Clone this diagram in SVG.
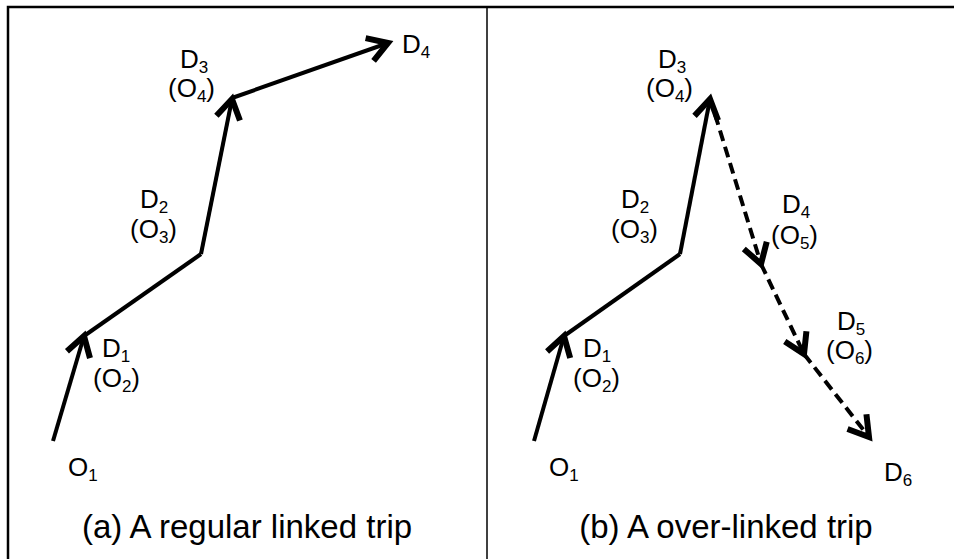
<svg xmlns="http://www.w3.org/2000/svg" width="954" height="559" viewBox="0 0 954 559">
<style>
.lbl{font-family:"Liberation Sans",Arial,sans-serif;font-size:26px;fill:#000}
.sub{font-size:17px}
.ttl{font-family:"Liberation Sans",Arial,sans-serif;font-size:33px;fill:#000}
.seg{fill:none;stroke:#000;stroke-width:4;marker-end:url(#ah)}
.plain{fill:none;stroke:#000;stroke-width:4}
.dash{stroke-dasharray:11 6}
.frame{fill:none;stroke:#000}
</style>
<defs>
<marker id="ah" markerUnits="userSpaceOnUse" markerWidth="30" markerHeight="30" viewBox="-15 -10 20 20" refX="0" refY="0" orient="auto">
<path d="M-13,-8 L0,0 L-13,8" fill="none" stroke="#000" stroke-width="4" stroke-linejoin="miter"/>
</marker>
</defs>
<rect width="954" height="559" fill="#fff"/>
<g id="frame">
<path class="frame" d="M8,559 V7 H954" stroke-width="2.5"/>
<path class="frame" d="M487,7 V559" stroke-width="1.5"/>
</g>
<g id="connectors">
<path class="seg" d="M53,441 L84,336"/>
<path class="plain" d="M84,336 L201,254"/>
<path class="seg" d="M201,254 L232,99"/>
<path class="seg" d="M232,98 L388,43"/>
<path class="seg" d="M534,441 L564,336"/>
<path class="plain" d="M564,336 L680,254"/>
<path class="seg" d="M680,254 L710,99"/>
<path class="seg dash" d="M710,98 L761,264"/>
<path class="seg dash" d="M761,264 L804,354"/>
<path class="seg dash" d="M804,354 L869,437"/>
</g>
<g id="a-O1"><text class="lbl" x="68" y="476">O<tspan class="sub" dy="5">1</tspan></text></g>
<g id="a-D1"><text class="lbl" x="102" y="357">D<tspan class="sub" dy="5">1</tspan></text><text class="lbl" x="93" y="387">(O<tspan class="sub" dy="5">2</tspan><tspan dy="-5">)</tspan></text></g>
<g id="a-D2"><text class="lbl" x="140" y="208">D<tspan class="sub" dy="5">2</tspan></text><text class="lbl" x="130" y="238">(O<tspan class="sub" dy="5">3</tspan><tspan dy="-5">)</tspan></text></g>
<g id="a-D3"><text class="lbl" x="180" y="68">D<tspan class="sub" dy="5">3</tspan></text><text class="lbl" x="168" y="97">(O<tspan class="sub" dy="5">4</tspan><tspan dy="-5">)</tspan></text></g>
<g id="a-D4"><text class="lbl" x="402" y="53">D<tspan class="sub" dy="5">4</tspan></text></g>
<g id="a-title"><text class="ttl" x="247" y="538" text-anchor="middle">(a) A regular linked trip</text></g>
<g id="b-O1"><text class="lbl" x="549" y="476">O<tspan class="sub" dy="5">1</tspan></text></g>
<g id="b-D1"><text class="lbl" x="583" y="357">D<tspan class="sub" dy="5">1</tspan></text><text class="lbl" x="573" y="387">(O<tspan class="sub" dy="5">2</tspan><tspan dy="-5">)</tspan></text></g>
<g id="b-D2"><text class="lbl" x="621" y="208">D<tspan class="sub" dy="5">2</tspan></text><text class="lbl" x="611" y="238">(O<tspan class="sub" dy="5">3</tspan><tspan dy="-5">)</tspan></text></g>
<g id="b-D3"><text class="lbl" x="658" y="68">D<tspan class="sub" dy="5">3</tspan></text><text class="lbl" x="646" y="97">(O<tspan class="sub" dy="5">4</tspan><tspan dy="-5">)</tspan></text></g>
<g id="b-D4"><text class="lbl" x="782" y="213">D<tspan class="sub" dy="5">4</tspan></text><text class="lbl" x="771" y="244">(O<tspan class="sub" dy="5">5</tspan><tspan dy="-5">)</tspan></text></g>
<g id="b-D5"><text class="lbl" x="837" y="330">D<tspan class="sub" dy="5">5</tspan></text><text class="lbl" x="826" y="359">(O<tspan class="sub" dy="5">6</tspan><tspan dy="-5">)</tspan></text></g>
<g id="b-D6"><text class="lbl" x="884" y="481">D<tspan class="sub" dy="5">6</tspan></text></g>
<g id="b-title"><text class="ttl" x="726" y="538" text-anchor="middle">(b) A over-linked trip</text></g>
</svg>
